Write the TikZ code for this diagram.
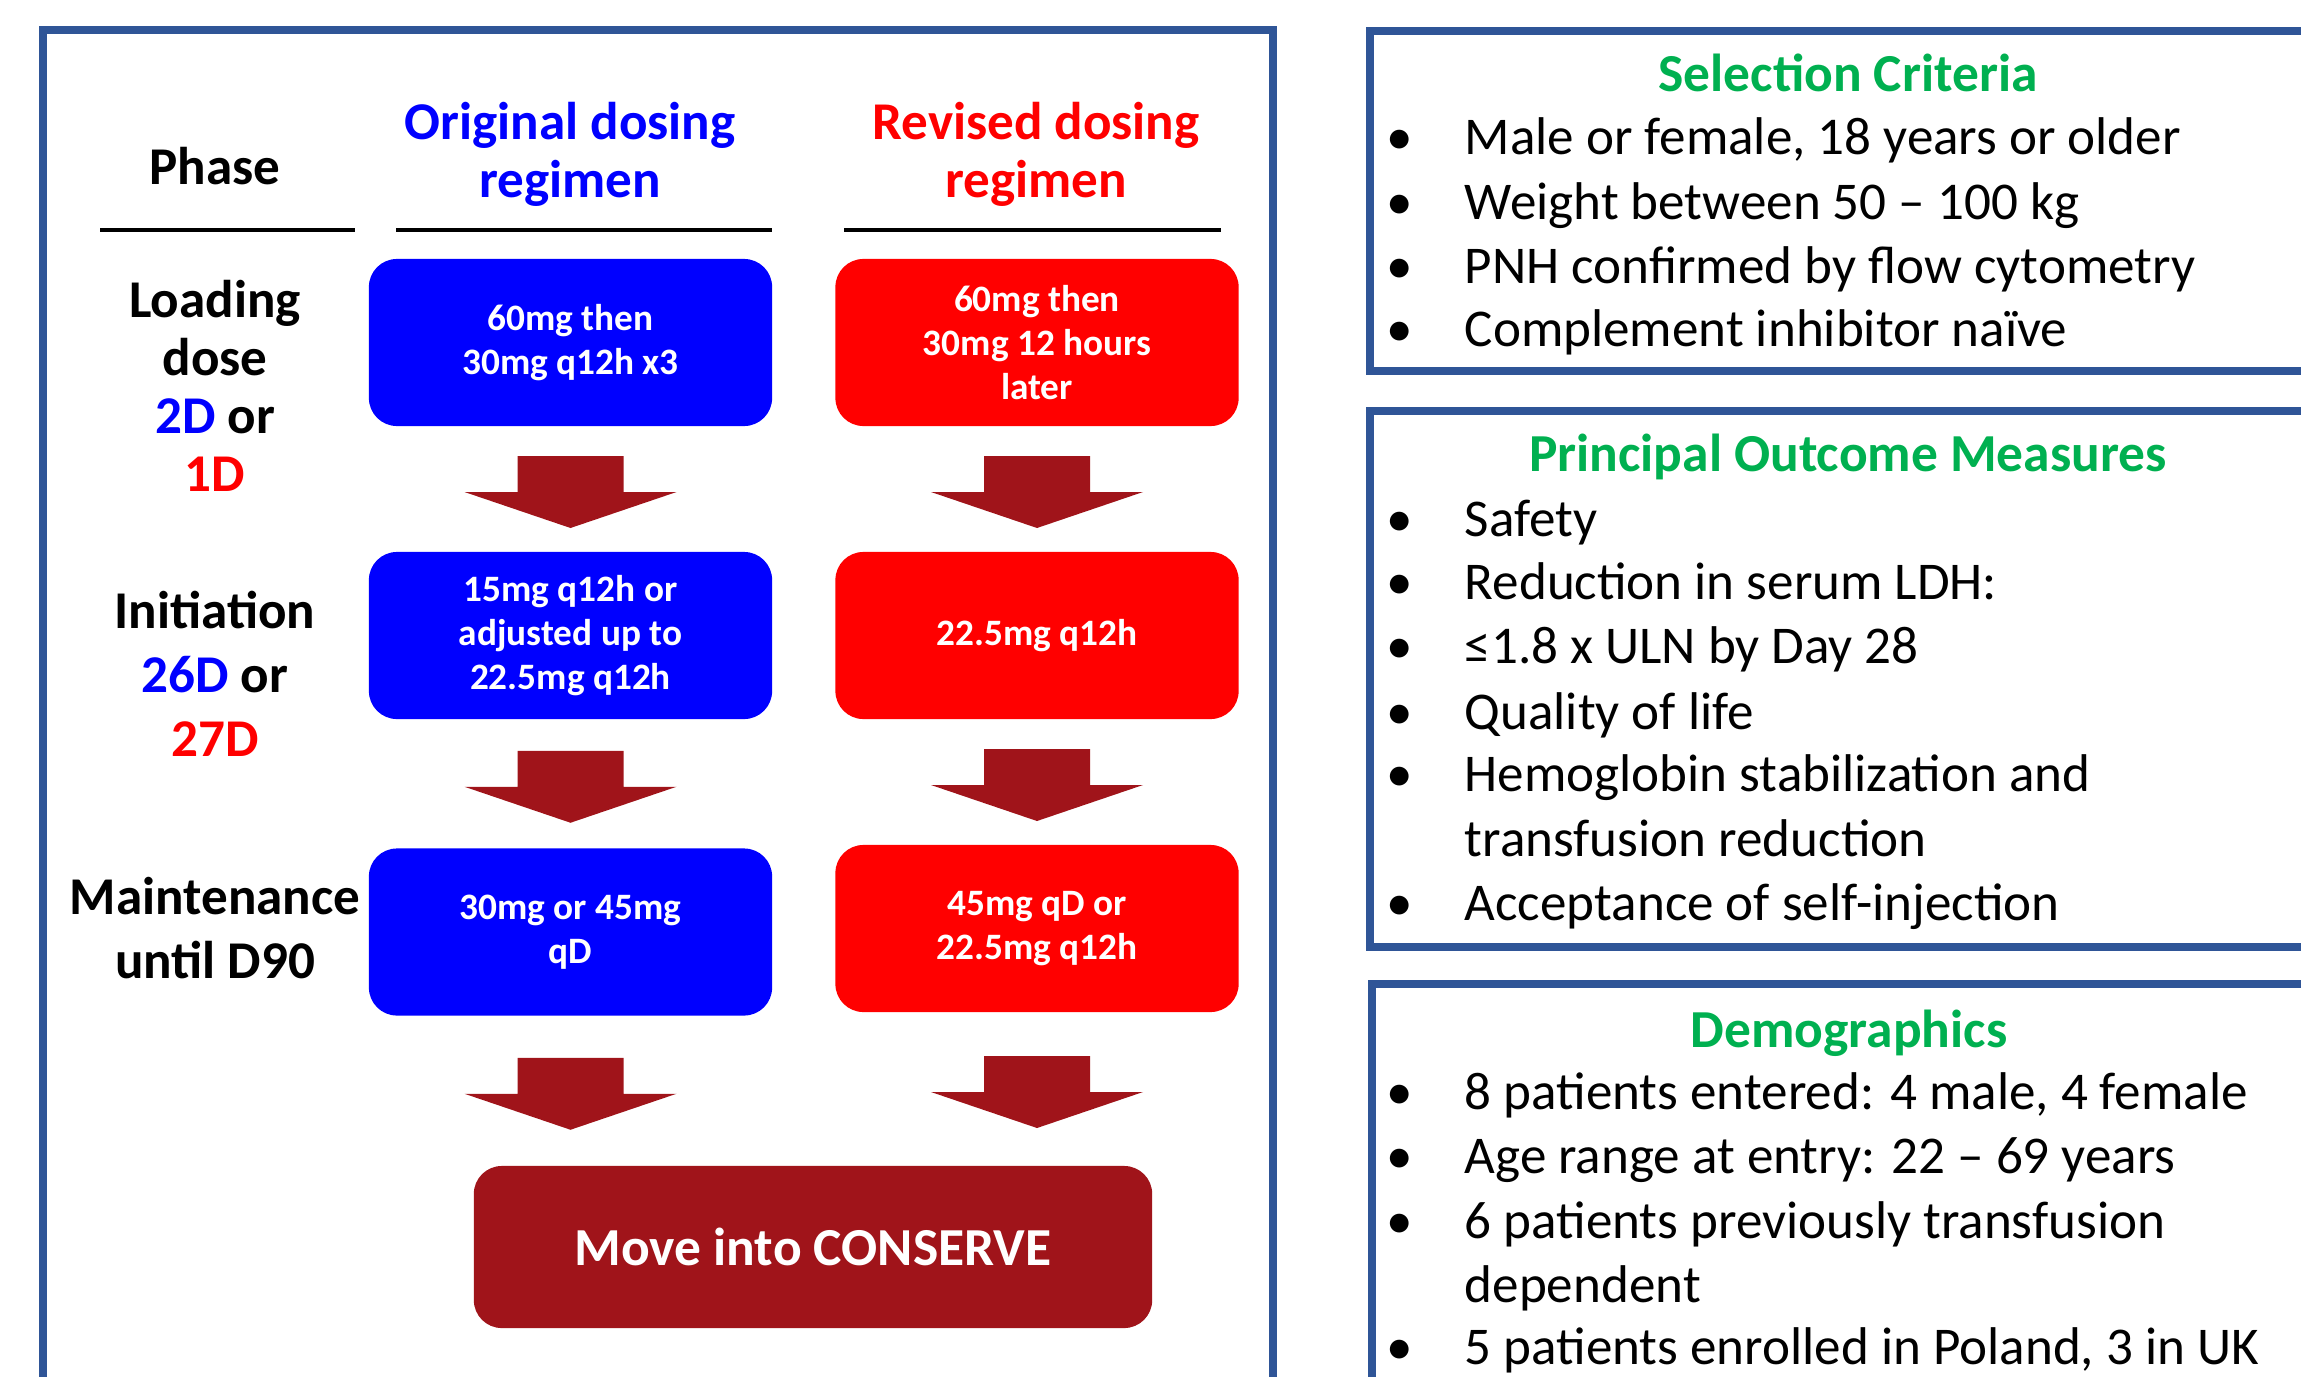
\documentclass[tikz,border=0pt]{standalone}
\usepackage{fontspec}
\setmainfont{Carlito}
\usepackage{tikz}
\usetikzlibrary{positioning,calc}

\definecolor{frameblue}{RGB}{47,85,151}
\definecolor{arrowred}{RGB}{160,20,26}
\definecolor{titlegreen}{RGB}{0,176,80}

\tikzset{
  panel/.style={draw=frameblue, line width=0.08cm},
  regbox/.style={rounded corners=0.28cm, minimum width=4.03cm, minimum height=1.67cm, inner sep=0pt,
    text=white, align=center, font=\bfseries\fontsize{10.6}{12.5}\selectfont},
  origbox/.style={regbox, fill=blue},
  revbox/.style={regbox, fill=red},
  colhead/.style={align=center, font=\bfseries\fontsize{15.1}{16.5}\selectfont},
  phaselbl/.style={align=center, font=\bfseries\fontsize{15.1}{18.2}\selectfont},
  crittitle/.style={anchor=base, text=titlegreen, font=\bfseries\fontsize{15.2}{18.2}\selectfont},
  critline/.style={anchor=base west, inner sep=0pt, font=\fontsize{15.1}{18.2}\selectfont},
}

% block arrow half way between a box and the next one below it
\newcommand{\blockarrow}[2]{%
  \fill[arrowred] ($(#1.south)!0.5!(#1.south |- #2.north)$) ++(-53,-33) -- ++(106,0) -- ++(0,36)
    -- ++(53,0) -- ++(-106,36) -- ++(-106,-36) -- ++(53,0) -- cycle;}
\newcommand{\bul}{\makebox[0.78cm][l]{\textbullet}}
\newcommand{\nobul}{\hspace*{0.78cm}}

\begin{document}
\begin{tikzpicture}[x=0.01cm, y=-0.01cm]
	\useasboundingbox (0,0) rectangle (2301,1376);

	% frames
	\draw[panel] (43,30) rectangle (1273,1420);
	\draw[panel] (1370,31) rectangle (2360,371);
	\draw[panel] (1370,411) rectangle (2360,947);
	\draw[panel] (1372,984) rectangle (2360,1420);

	% column heads
	\node[colhead] (phase) at (215,166) {Phase};
	\node[colhead, text=blue] (orighead) at (570,154) {Original dosing\\regimen};
	\node[colhead, text=red] (revhead) at (1036,154) {Revised dosing\\regimen};
	\draw[line width=0.035cm] (100,230) -- (355,230);
	\draw[line width=0.035cm] (396,230) -- (772,230);
	\draw[line width=0.035cm] (844,230) -- (1221,230);

	% phases
	\node[phaselbl, font=\bfseries\fontsize{15.1}{16.5}\selectfont] (load) at (215,386) {Loading\\dose\\\textcolor{blue}{2D} or\\\textcolor{red}{1D}};
	\node[phaselbl] (init) at (215,674) {Initiation\\\textcolor{blue}{26D} or\\\textcolor{red}{27D}};
	\node[phaselbl] (maint) at (215,928) {Maintenance\\until D90};

	% regimens
	\node[origbox] (o1) at (570.5,342.5) {60mg then\\30mg q12h x3};
	\node[origbox] (o2) at (570.5,635.5) {15mg q12h or\\adjusted up to\\22.5mg q12h};
	\node[origbox] (o3) at (570.5,932) {30mg or 45mg\\qD};
	\node[revbox] (r1) at (1037,342.5) {60mg then\\30mg 12 hours\\later};
	\node[revbox] (r2) at (1037,635.5) {22.5mg q12h};
	\node[revbox] (r3) at (1037,928.5) {45mg qD or\\22.5mg q12h};
	\node[regbox, fill=arrowred, minimum width=6.78cm, minimum height=1.62cm, font=\bfseries\fontsize{15.2}{18}\selectfont] (cons) at (813,1247) {Move into CONSERVE};

	\blockarrow{o1}{o2}
	\blockarrow{o2}{o3}
	\blockarrow{o3}{cons}
	\blockarrow{r1}{r2}
	\blockarrow{r2}{r3}
	\blockarrow{r3}{cons}

	% selection criteria
	\node[crittitle] (sel) at (1848,92) {Selection Criteria};
	\node[critline] (sel1) at (1386,154) {\bul Male or female, 18 years or older};
	\node[critline] (sel2) at (1386,219) {\bul Weight between 50 -- 100 kg};
	\node[critline] (sel3) at (1386,283) {\bul PNH confirmed by flow cytometry};
	\node[critline] (sel4) at (1386,346) {\bul Complement inhibitor naïve};

	% outcome measures
	\node[crittitle] (out) at (1848,471) {Principal Outcome Measures};
	\node[critline] (out1) at (1386,536) {\bul Safety};
	\node[critline] (out2) at (1386,599) {\bul Reduction in serum LDH:};
	\node[critline] (out3) at (1386,663) {\bul ≤1.8 x ULN by Day 28};
	\node[critline] (out4) at (1386,729) {\bul Quality of life};
	\node[critline] (out5) at (1386,791) {\bul Hemoglobin stabilization and};
	\node[critline] (out6) at (1386,856) {\nobul transfusion reduction};
	\node[critline] (out7) at (1386,920) {\bul Acceptance of self-injection};

	% demographics
	\node[crittitle] (demo) at (1849,1047) {Demographics};
	\node[critline] (demo1) at (1386,1109) {\bul 8 patients entered: 4 male, 4 female};
	\node[critline] (demo2) at (1386,1173) {\bul Age range at entry: 22 -- 69 years};
	\node[critline] (demo3) at (1386,1238) {\bul 6 patients previously transfusion};
	\node[critline] (demo4) at (1386,1302) {\nobul dependent};
	\node[critline] (demo5) at (1386,1364) {\bul 5 patients enrolled in Poland, 3 in UK};
\end{tikzpicture}
\end{document}
